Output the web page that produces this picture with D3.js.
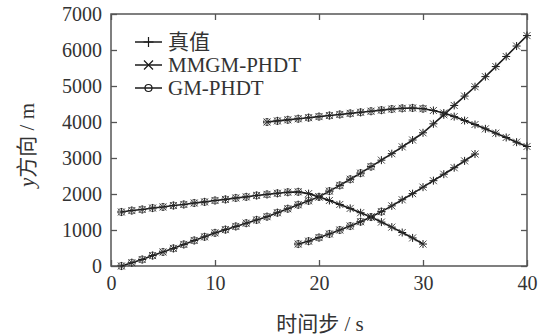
<!DOCTYPE html>
<meta charset="utf-8">
<style>
    body, html {
        margin: 0;
        padding: 0;
        background: #fff;
        overflow: hidden;
    }
    text { fill: #333; }
</style>
<svg width="541" height="336"></svg>
<script src="https://d3js.org/d3.v7.min.js"></script>
<script>
    // time steps and y positions for each of the four targets
    var t1 = d3.range(1, 31);
    var truth1 = [1500, 1540, 1570, 1610, 1640, 1680, 1710, 1750, 1780, 1820,
                  1850, 1890, 1920, 1960, 1990, 2020, 2050, 2060, 2010, 1920,
                  1820, 1710, 1600, 1480, 1360, 1220, 1080, 930, 780, 610];
    var t2 = d3.range(1, 41);
    var truth2 = [0, 90, 180, 290, 390, 490, 600, 710, 810, 920,
                  1010, 1100, 1190, 1280, 1370, 1480, 1590, 1700, 1810, 1920,
                  2080, 2240, 2410, 2580, 2760, 2940, 3120, 3310, 3500, 3700,
                  3950, 4200, 4460, 4720, 4980, 5260, 5540, 5820, 6110, 6400];
    var t3 = d3.range(15, 41);
    var truth3 = [4000, 4030, 4060, 4090, 4120, 4150, 4180, 4210, 4240, 4270,
                  4300, 4330, 4360, 4380, 4390, 4370, 4320, 4250, 4150, 4040,
                  3930, 3810, 3690, 3570, 3440, 3320];
    var t4 = d3.range(18, 36);
    var truth4 = [610, 690, 790, 890, 1000, 1110, 1230, 1360, 1510, 1670,
                  1840, 2010, 2190, 2370, 2550, 2730, 2920, 3110];

    // how many leading steps the GM-PHDT estimate keeps each track
    var gmSteps = [18, 25, 16, 9];

    var xTicks = [0, 10, 20, 30, 40];
    var yTicks = [0, 1000, 2000, 3000, 4000, 5000, 6000, 7000];
    var legendNames = ["真值", "MMGM-PHDT", "GM-PHDT"];

    var tracks = [
        { t: t1, y: truth1 },
        { t: t2, y: truth2 },
        { t: t3, y: truth3 },
        { t: t4, y: truth4 }
    ].map(function (d, k) {
        return d.t.map(function (tt, i) { return { x: tt, y: d.y[i], gm: i < gmSteps[k] }; });
    });

    var svg = d3.select("svg");
    var pL = 111, pR = 527, pT = 14, pB = 266;

    var x = d3.scaleLinear().domain([0, 40]).range([pL, pR]);
    var y = d3.scaleLinear().domain([0, 7000]).range([pB, pT]);

    var font = "'Liberation Serif', 'Times New Roman', 'Noto Sans CJK SC', serif";
    var frame = "#555";

    // frame
    svg.append("rect")
        .attr("x", pL).attr("y", pT)
        .attr("width", pR - pL).attr("height", pB - pT)
        .attr("fill", "none").attr("stroke", frame).attr("stroke-width", 1.5);

    // inward ticks on all sides
    var tk = 6;
    var axB = svg.append("g").attr("transform", "translate(0," + pB + ")")
        .call(d3.axisBottom(x).tickValues(xTicks).tickFormat(d3.format("d"))
            .tickSizeInner(-tk).tickSizeOuter(0).tickPadding(10));
    var axL = svg.append("g").attr("transform", "translate(" + pL + ",0)")
        .call(d3.axisLeft(y).tickValues(yTicks).tickFormat(d3.format("d"))
            .tickSizeInner(-tk).tickSizeOuter(0).tickPadding(9));
    var axT = svg.append("g").attr("transform", "translate(0," + pT + ")")
        .call(d3.axisTop(x).tickValues(xTicks).tickSizeInner(-tk).tickSizeOuter(0).tickFormat(""));
    var axR = svg.append("g").attr("transform", "translate(" + pR + ",0)")
        .call(d3.axisRight(y).tickValues(yTicks).tickSizeInner(-tk).tickSizeOuter(0).tickFormat(""));

    [axB, axL, axT, axR].forEach(function (a) {
        a.select(".domain").remove();
        a.selectAll(".tick line").attr("stroke", frame).attr("stroke-width", 1.3);
        a.selectAll("text").attr("font-family", font).attr("font-size", 20).attr("fill", "#333");
    });

    // axis titles
    svg.append("text")
        .attr("x", 320).attr("y", 331)
        .attr("text-anchor", "middle")
        .attr("font-family", font).attr("font-size", 21)
        .text("时间步 / s");

    var yt = svg.append("text")
        .attr("transform", "translate(34,145) rotate(-90)")
        .attr("text-anchor", "middle")
        .attr("font-family", font).attr("font-size", 21);
    yt.append("tspan").attr("font-style", "italic").text("y");
    yt.append("tspan").text("方向 / m");

    var line = d3.line().x(function (d) { return x(d.x); }).y(function (d) { return y(d.y); });
    var ink = "#1a1a1a";

    function plus(g, s) {
        g.append("path").attr("d", "M" + (-s) + ",0H" + s + "M0," + (-s) + "V" + s);
    }
    function cross(g, s) {
        g.append("path").attr("d", "M" + (-s) + "," + (-s) + "L" + s + "," + s + "M" + (-s) + "," + s + "L" + s + "," + (-s));
    }
    function ring(g, s) {
        g.append("circle").attr("r", s).attr("fill", "none");
    }

    var plot = svg.append("g").attr("stroke", ink).attr("fill", "none");

    tracks.forEach(function (tr) {
        plot.append("path").datum(tr).attr("d", line).attr("stroke-width", 1.6);
        // GM-PHDT circles
        plot.append("g").attr("stroke", "#666").attr("stroke-width", 0.9)
            .selectAll("g").data(tr.filter(function (d) { return d.gm; })).enter().append("g")
            .attr("transform", function (d) { return "translate(" + x(d.x) + "," + y(d.y) + ")"; })
            .each(function () { ring(d3.select(this), 3.6); });
        // truth plus marks
        plot.append("g").attr("stroke-width", 1)
            .selectAll("g").data(tr).enter().append("g")
            .attr("transform", function (d) { return "translate(" + x(d.x) + "," + y(d.y) + ")"; })
            .each(function () { plus(d3.select(this), 4); });
        // MMGM-PHDT crosses
        plot.append("g").attr("stroke-width", 0.9).attr("stroke", "#333")
            .selectAll("g").data(tr).enter().append("g")
            .attr("transform", function (d) { return "translate(" + x(d.x) + "," + y(d.y) + ")"; })
            .each(function () { cross(d3.select(this), 3.5); });
    });

    // legend
    var lg = svg.append("g").attr("font-family", font).attr("font-size", 21);
    var markers = [plus, cross, ring];
    var sizes = [5, 4.5, 3.5];
    legendNames.forEach(function (name, i) {
        var ly = 42 + i * 23;
        var row = lg.append("g").attr("transform", "translate(0," + ly + ")");
        row.append("line").attr("x1", 135).attr("x2", 162).attr("y1", 0).attr("y2", 0)
            .attr("stroke", ink).attr("stroke-width", 1.5);
        var m = row.append("g").attr("transform", "translate(148.5,0)")
            .attr("stroke", ink).attr("stroke-width", 1.2).attr("fill", "none");
        markers[i](m, sizes[i]);
        row.append("text").attr("x", 168).attr("y", 7).text(name);
    });
</script>
